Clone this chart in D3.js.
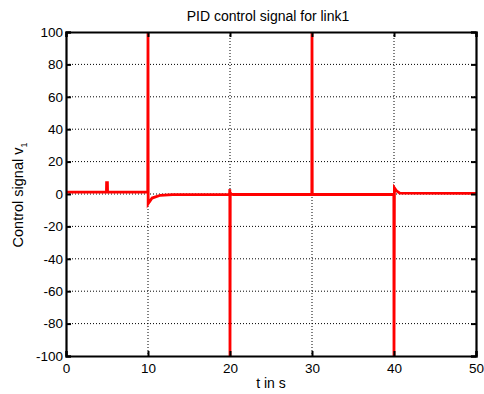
<!DOCTYPE html>
<html>
<head>
<meta charset="utf-8">
<script src="https://cdn.jsdelivr.net/npm/d3@7"></script>
<style>
  body { margin: 0; background: #fff; }
  text { font-family: Arial, "Liberation Sans", sans-serif; fill: #000; }
</style>
</head>
<body>
<svg id="chart" width="484" height="394"></svg>
<script>
// Data
const timeVals = [0, 4.93, 4.95, 5.05, 5.07, 9.97, 10, 10.02, 10.15, 10.5, 11.5, 13,
  19.95, 19.98, 20, 20.03, 20.1, 20.4, 29.98, 30, 30.03, 39.98, 40, 40.05, 40.3, 40.7, 50];
const signalVals = [1.2, 1.2, 7, 7, 1.2, 1.2, 100, -6, -5, -2.5, -0.8, -0.4,
  -0.4, 3, -100, 1, 0, -0.3, -0.3, 100, -0.3, -0.3, -100, 3.8, 2, 0.5, 0.4];
const xTicks = [0, 10, 20, 30, 40, 50];
const yTicks = [-100, -80, -60, -40, -20, 0, 20, 40, 60, 80, 100];

const svg = d3.select("#chart");
const margin = { left: 66, right: 8, top: 32, bottom: 38 };
const width = 484, height = 394;
const x = d3.scaleLinear().domain([0, 50]).range([margin.left, width - margin.right]);
const y = d3.scaleLinear().domain([-100, 100]).range([height - margin.bottom, margin.top]);

svg.append("defs").append("clipPath").attr("id", "plotclip")
  .append("rect")
  .attr("x", x(0)).attr("y", y(100))
  .attr("width", x(50) - x(0)).attr("height", y(-100) - y(100));

// Grid
const grid = svg.append("g");
grid.selectAll("line.gx")
  .data(xTicks.slice(1, -1))
  .join("line")
  .attr("x1", d => x(d)).attr("x2", d => x(d))
  .attr("y1", y(100)).attr("y2", y(-100))
  .attr("stroke", "#000").attr("stroke-width", 1).attr("stroke-dasharray", "1,2");
grid.selectAll("line.gy")
  .data(yTicks.slice(1, -1))
  .join("line")
  .attr("y1", d => y(d)).attr("y2", d => y(d))
  .attr("x1", x(0)).attr("x2", x(50))
  .attr("stroke", "#000").attr("stroke-width", 1).attr("stroke-dasharray", "1,2");

// Signal
const line = d3.line().x((d, i) => x(timeVals[i])).y(d => y(d));
svg.append("path")
  .datum(signalVals)
  .attr("clip-path", "url(#plotclip)")
  .attr("d", line)
  .attr("fill", "none")
  .attr("stroke", "#ff0000")
  .attr("stroke-width", 2.8)
  .attr("stroke-linejoin", "miter");

// Axes (plain hyphen for negatives, like the reference)
const fmt = d => String(d);
const xAxis = svg.append("g").attr("transform", `translate(0,${y(-100)})`)
  .call(d3.axisBottom(x).tickValues(xTicks).tickSize(-5).tickPadding(7).tickFormat(fmt));
const xAxisTop = svg.append("g").attr("transform", `translate(0,${y(100)})`)
  .call(d3.axisTop(x).tickValues(xTicks).tickSize(-5).tickFormat(""));
const yAxis = svg.append("g").attr("transform", `translate(${x(0)},0)`)
  .call(d3.axisLeft(y).tickValues(yTicks).tickSize(-5).tickPadding(3).tickFormat(fmt));
const yAxisRight = svg.append("g").attr("transform", `translate(${x(50)},0)`)
  .call(d3.axisRight(y).tickValues(yTicks).tickSize(-5).tickFormat(""));

[xAxis, xAxisTop, yAxis, yAxisRight].forEach(a => {
  a.select(".domain").attr("stroke", "#000").attr("stroke-width", 2.2);
  a.selectAll(".tick line").attr("stroke", "#000").attr("stroke-width", 2);
  a.selectAll("text").style("font-size", "13.5px").style("font-family", "Arial, 'Liberation Sans', sans-serif");
});

// Labels
svg.append("text")
  .attr("x", 268).attr("y", 21)
  .attr("text-anchor", "middle").style("font-size", "14px")
  .text("PID control signal for link1");

svg.append("text")
  .attr("x", (x(0) + x(50)) / 2).attr("y", 388)
  .attr("text-anchor", "middle").style("font-size", "14px")
  .text("t in s");

const yl = svg.append("text")
  .attr("transform", `translate(23,${y(0) + 1}) rotate(-90)`)
  .attr("text-anchor", "middle").style("font-size", "14.5px");
yl.append("tspan").text("Control signal v");
yl.append("tspan").attr("dy", 4).style("font-size", "9px").text("1");
</script>
</body>
</html>
